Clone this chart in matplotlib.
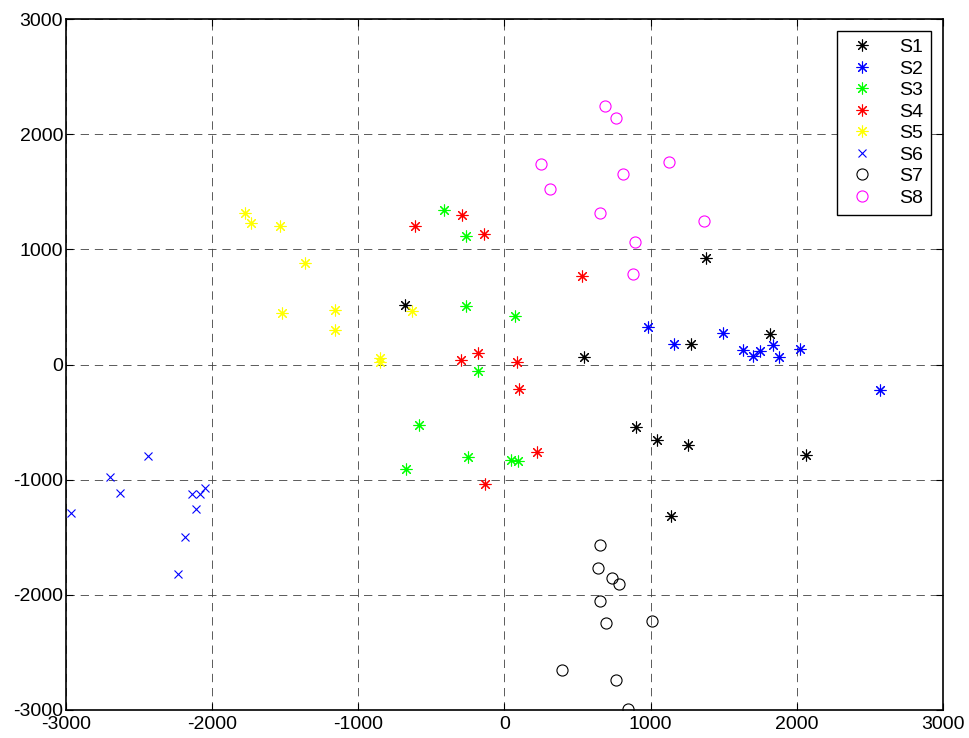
import matplotlib
matplotlib.use("Agg")
import matplotlib.pyplot as plt

plt.rcParams['font.family'] = ['Liberation Sans', 'DejaVu Sans']
plt.rcParams['axes.unicode_minus'] = False

# cluster scores
s1_x = [-681, 544, 1379, 900, 1044, 1256, 1276, 1817, 2063, 1139]
s1_y = [516, 65, 925, -543, -656, -699, 178, 265, -786, -1315]

s2_x = [982, 1160, 1495, 1632, 1700, 1748, 1837, 1878, 2022, 2569]
s2_y = [325, 178, 273, 126, 74, 117, 169, 65, 134, -221]

s3_x = [-414, -263, -263, 72, -181, -585, -250, -674, 42, 90]
s3_y = [1341, 1115, 508, 421, -56, -525, -803, -907, -829, -838]

s4_x = [-612, -291, -140, -297, -181, 86, 99, 222, -133, 530]
s4_y = [1202, 1298, 1133, 39, 100, 22, -212, -760, -1037, 768]

s5_x = [-1775, -1734, -1536, -1365, -1522, -1160, -1160, -852, -852, -633]
s5_y = [1315, 1228, 1202, 881, 447, 473, 299, 56, 22, 464]

s6_x = [-2966, -2699, -2631, -2439, -2138, -2083, -2049, -2111, -2186, -2234]
s6_y = [-1289, -977, -1116, -794, -1124, -1124, -1072, -1254, -1497, -1818]

s7_x = [654, 640, 736, 784, 654, 695, 1009, 394, 763, 845]
s7_y = [-1567, -1766, -1853, -1905, -2053, -2244, -2227, -2652, -2739, -2990]

s8_x = [688, 763, 250, 312, 811, 1126, 654, 1365, 893, 880]
s8_y = [2244, 2140, 1740, 1523, 1653, 1757, 1314, 1245, 1063, 786]

labels = ['S1', 'S2', 'S3', 'S4', 'S5', 'S6', 'S7', 'S8']
colors = ['k', 'b', '#00ff00', 'r', '#ffff00', 'b', 'k', '#ff00ff']
markers = [(8, 2, 0)] * 5 + ['x', 'o', 'o']
xs = [s1_x, s2_x, s3_x, s4_x, s5_x, s6_x, s7_x, s8_x]
ys = [s1_y, s2_y, s3_y, s4_y, s5_y, s6_y, s7_y, s8_y]

fig = plt.figure(figsize=(9.69, 7.38), dpi=100)
ax = fig.add_axes([0.068, 0.038, 0.905, 0.936])

for x, y, c, m, lab in zip(xs, ys, colors, markers, labels):
    if m == 'o':
        ax.plot(x, y, linestyle='none', marker='o', markersize=8, markerfacecolor='none',
                markeredgecolor=c, markeredgewidth=0.8, label=lab)
    elif m == 'x':
        ax.plot(x, y, linestyle='none', marker='x', markersize=6, color=c,
                markeredgewidth=0.8, label=lab)
    else:
        ax.plot(x, y, linestyle='none', marker=m, markersize=8.5, color=c,
                markeredgewidth=0.8, label=lab)

ax.set_xlim([-3000, 3000])
ax.set_ylim([-3000, 3000])
ax.set_xticks(range(-3000, 3001, 1000))
ax.set_yticks(range(-3000, 3001, 1000))
ax.grid(True, color='0.25', linestyle=(0, (10, 7)), linewidth=0.6)
ax.tick_params(direction='in', labelsize=14, length=5, width=0.8, top=True, right=True)
ax.tick_params(axis='x', pad=4)
ax.tick_params(axis='y', pad=2)
for sp in ax.spines.values():
    sp.set_linewidth(1.2)

leg = ax.legend(loc='upper right', fontsize=14, frameon=True, fancybox=False,
                edgecolor='k', framealpha=1, handlelength=1.8, borderpad=0.4,
                labelspacing=0.2, handletextpad=1.0, borderaxespad=0.6)
leg.get_frame().set_linewidth(1.0)

fig.savefig('out.png', dpi=100)
